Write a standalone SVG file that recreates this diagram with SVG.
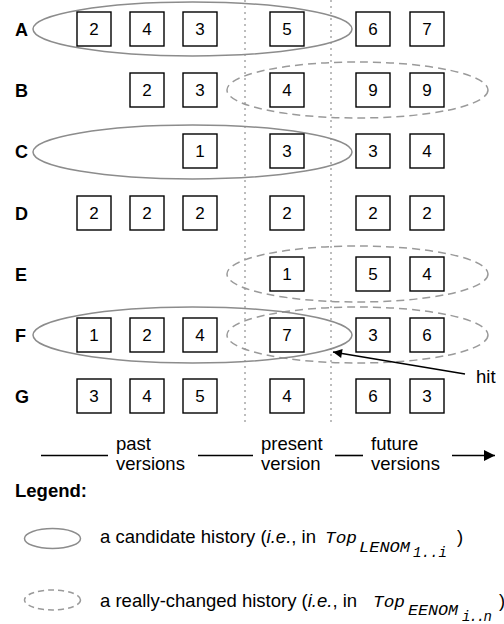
<svg xmlns="http://www.w3.org/2000/svg" width="504" height="624" viewBox="0 0 504 624">
  <defs>
    <style>
      .box { fill: #fff; stroke: #000; stroke-width: 1.4; }
      .num { font-family: "Liberation Sans", Arial, sans-serif; font-size: 17px; text-anchor: middle; fill: #000; }
      .row { font-family: "Liberation Sans", Arial, sans-serif; font-size: 18px; font-weight: bold; fill: #000; }
      .txt { font-family: "Liberation Sans", Arial, sans-serif; font-size: 18.5px; fill: #000; }
      .mono { font-family: "Liberation Mono", "Courier New", monospace; font-style: italic; fill: #000; }
      .cand { fill: none; stroke: #8c8c8c; stroke-width: 1.5; }
      .real { fill: none; stroke: #9a9a9a; stroke-width: 1.5; stroke-dasharray: 8 5; }
      .sep { stroke: #9a9a9a; stroke-width: 1.3; stroke-dasharray: 2 4; }
      .line { stroke: #000; stroke-width: 1.6; fill: none; }
    </style>
    <marker id="arrow" viewBox="0 0 10 10" refX="10" refY="5" markerWidth="14" markerHeight="9" markerUnits="userSpaceOnUse" orient="auto">
      <path d="M0,0 L10,5 L0,10 z" fill="#000"/>
    </marker>
    <marker id="arrowBig" viewBox="0 0 10 10" refX="10" refY="5" markerWidth="15" markerHeight="11" markerUnits="userSpaceOnUse" orient="auto">
      <path d="M0,0 L10,5 L0,10 z" fill="#000"/>
    </marker>
  </defs>

  <!-- time separators: past | present | future -->
  <g id="separators">
    <line class="sep" x1="245" y1="0" x2="245" y2="423"/>
    <line class="sep" x1="331" y1="0" x2="331" y2="423"/>
  </g>

  <!-- history groupings -->
  <g id="histories">
    <ellipse class="cand" cx="192.5" cy="29" rx="159.5" ry="27"/>
    <ellipse class="real" cx="357.5" cy="90" rx="130.5" ry="28"/>
    <ellipse class="cand" cx="192.5" cy="152" rx="159.5" ry="27"/>
    <ellipse class="real" cx="357.5" cy="274" rx="130.5" ry="28"/>
    <ellipse class="real" cx="357.5" cy="335" rx="130.5" ry="28"/>
    <ellipse class="cand" cx="192.5" cy="335" rx="159.5" ry="28"/>
  </g>

  <g id="rowA">
    <text class="row" x="15" y="36">A</text>
    <rect class="box" x="77" y="12" width="34" height="34"/><text class="num" x="94" y="35">2</text>
    <rect class="box" x="130" y="12" width="34" height="34"/><text class="num" x="147" y="35">4</text>
    <rect class="box" x="183" y="12" width="34" height="34"/><text class="num" x="200" y="35">3</text>
    <rect class="box" x="270" y="12" width="34" height="34"/><text class="num" x="287" y="35">5</text>
    <rect class="box" x="356" y="12" width="34" height="34"/><text class="num" x="373" y="35">6</text>
    <rect class="box" x="410" y="12" width="34" height="34"/><text class="num" x="427" y="35">7</text>
  </g>

  <g id="rowB">
    <text class="row" x="15" y="97">B</text>
    <rect class="box" x="130" y="73" width="34" height="34"/><text class="num" x="147" y="96">2</text>
    <rect class="box" x="183" y="73" width="34" height="34"/><text class="num" x="200" y="96">3</text>
    <rect class="box" x="270" y="73" width="34" height="34"/><text class="num" x="287" y="96">4</text>
    <rect class="box" x="356" y="73" width="34" height="34"/><text class="num" x="373" y="96">9</text>
    <rect class="box" x="410" y="73" width="34" height="34"/><text class="num" x="427" y="96">9</text>
  </g>

  <g id="rowC">
    <text class="row" x="15" y="158">C</text>
    <rect class="box" x="183" y="134" width="34" height="34"/><text class="num" x="200" y="157">1</text>
    <rect class="box" x="270" y="134" width="34" height="34"/><text class="num" x="287" y="157">3</text>
    <rect class="box" x="356" y="134" width="34" height="34"/><text class="num" x="373" y="157">3</text>
    <rect class="box" x="410" y="134" width="34" height="34"/><text class="num" x="427" y="157">4</text>
  </g>

  <g id="rowD">
    <text class="row" x="15" y="220">D</text>
    <rect class="box" x="77" y="196" width="34" height="34"/><text class="num" x="94" y="219">2</text>
    <rect class="box" x="130" y="196" width="34" height="34"/><text class="num" x="147" y="219">2</text>
    <rect class="box" x="183" y="196" width="34" height="34"/><text class="num" x="200" y="219">2</text>
    <rect class="box" x="270" y="196" width="34" height="34"/><text class="num" x="287" y="219">2</text>
    <rect class="box" x="356" y="196" width="34" height="34"/><text class="num" x="373" y="219">2</text>
    <rect class="box" x="410" y="196" width="34" height="34"/><text class="num" x="427" y="219">2</text>
  </g>

  <g id="rowE">
    <text class="row" x="15" y="281">E</text>
    <rect class="box" x="270" y="257" width="34" height="34"/><text class="num" x="287" y="280">1</text>
    <rect class="box" x="356" y="257" width="34" height="34"/><text class="num" x="373" y="280">5</text>
    <rect class="box" x="410" y="257" width="34" height="34"/><text class="num" x="427" y="280">4</text>
  </g>

  <g id="rowF">
    <text class="row" x="15" y="342">F</text>
    <rect class="box" x="77" y="318" width="34" height="34"/><text class="num" x="94" y="341">1</text>
    <rect class="box" x="130" y="318" width="34" height="34"/><text class="num" x="147" y="341">2</text>
    <rect class="box" x="183" y="318" width="34" height="34"/><text class="num" x="200" y="341">4</text>
    <rect class="box" x="270" y="318" width="34" height="34"/><text class="num" x="287" y="341">7</text>
    <rect class="box" x="356" y="318" width="34" height="34"/><text class="num" x="373" y="341">3</text>
    <rect class="box" x="410" y="318" width="34" height="34"/><text class="num" x="427" y="341">6</text>
  </g>

  <g id="rowG">
    <text class="row" x="15" y="403">G</text>
    <rect class="box" x="77" y="379" width="34" height="34"/><text class="num" x="94" y="402">3</text>
    <rect class="box" x="130" y="379" width="34" height="34"/><text class="num" x="147" y="402">4</text>
    <rect class="box" x="183" y="379" width="34" height="34"/><text class="num" x="200" y="402">5</text>
    <rect class="box" x="270" y="379" width="34" height="34"/><text class="num" x="287" y="402">4</text>
    <rect class="box" x="356" y="379" width="34" height="34"/><text class="num" x="373" y="402">6</text>
    <rect class="box" x="410" y="379" width="34" height="34"/><text class="num" x="427" y="402">3</text>
  </g>

  <!-- annotation pointing at the hit -->
  <g id="hit">
    <text class="txt" x="476" y="383">hit</text>
  </g>

  <!-- timeline axis -->
  <g id="timeline">
    <text class="txt" x="116" y="450">past</text>
    <text class="txt" x="116" y="470">versions</text>
    <text class="txt" x="261" y="450">present</text>
    <text class="txt" x="261" y="470">version</text>
    <text class="txt" x="371" y="450">future</text>
    <text class="txt" x="371" y="470">versions</text>
  </g>

  <g id="connectors">
    <line class="line" x1="465" y1="374" x2="333" y2="352" marker-end="url(#arrow)"/>
    <line class="line" x1="41" y1="455.5" x2="108" y2="455.5"/>
    <line class="line" x1="198" y1="455.5" x2="253" y2="455.5"/>
    <line class="line" x1="335" y1="455.5" x2="363" y2="455.5"/>
    <line class="line" x1="452" y1="455.5" x2="495" y2="455.5" marker-end="url(#arrowBig)"/>
  </g>

  <!-- legend -->
  <g id="legend">
    <text class="txt" x="15" y="497" font-weight="bold">Legend:</text>
    <ellipse class="cand" cx="52.5" cy="538.5" rx="28" ry="10"/>
    <text class="txt" x="100" y="543">a candidate history (<tspan font-style="italic">i.e.</tspan>, in</text>
    <text class="mono" x="325" y="543" font-size="17" textLength="32" lengthAdjust="spacingAndGlyphs">Top</text>
    <text class="mono" x="359" y="552" font-size="15" textLength="51" lengthAdjust="spacingAndGlyphs">LENOM</text>
    <text class="mono" x="413" y="557" font-size="14" textLength="34" lengthAdjust="spacing">1..i</text>
    <text class="txt" x="457" y="543">)</text>

    <ellipse class="real" cx="52.5" cy="600" rx="28" ry="10" style="stroke-dasharray:6 4"/>
    <text class="txt" x="100" y="607">a really-changed history (<tspan font-style="italic">i.e.</tspan>, in</text>
    <text class="mono" x="373" y="607" font-size="17" textLength="32" lengthAdjust="spacingAndGlyphs">Top</text>
    <text class="mono" x="408" y="615" font-size="15" textLength="50" lengthAdjust="spacingAndGlyphs">EENOM</text>
    <text class="mono" x="462" y="621" font-size="14" textLength="30" lengthAdjust="spacing">i..n</text>
    <text class="txt" x="499" y="607">)</text>
  </g>
</svg>
